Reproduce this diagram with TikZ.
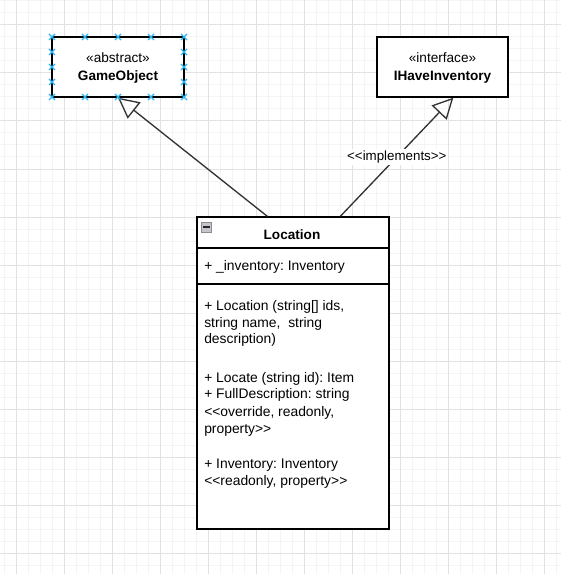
\documentclass[tikz,border=0pt]{standalone}
\usepackage{fontspec}
\setmainfont{Liberation Sans}
\usetikzlibrary{arrows.meta,calc}
\definecolor{gridmajor}{HTML}{E2E2E2}
\definecolor{gridminor}{HTML}{F4F4F4}
\definecolor{selblue}{HTML}{29B6F2}
\definecolor{edgegray}{HTML}{333333}
\definecolor{togfill}{HTML}{C4C6CC}
\definecolor{togdraw}{HTML}{8A8C92}
\tikzset{
  umlbox/.style={draw=black, line width=1pt, fill=white, rectangle, inner sep=0pt},
  txt/.style={anchor=base west, inner sep=0pt, font=\fontsize{10.4}{12}\selectfont},
  ctxt/.style={anchor=base, inner sep=0pt, font=\fontsize{10.2}{12}\selectfont},
  btxt/.style={anchor=base, inner sep=0pt, font=\fontsize{10.2}{12}\selectfont\bfseries},
  umledge/.style={draw=edgegray, line width=1pt, -{Triangle[open, length=15.5pt, width=15.5pt, line width=1pt]}},
  selmark/.style={draw=selblue, line width=0.9pt}
}
\begin{document}
\frenchspacing
\begin{tikzpicture}[x=0.75pt,y=-0.75pt]
\useasboundingbox (0,0) rectangle (561,574);
\fill[white] (0,0) rectangle (561,574);
% grid
\foreach \x in {4,16,...,560} \draw[gridminor, line width=0.75pt] (\x,0) -- (\x,574);
\foreach \y in {1,13,...,573} \draw[gridminor, line width=0.75pt] (0,\y) -- (561,\y);
\foreach \x in {16,64,...,560} \draw[gridmajor, line width=0.75pt] (\x,0) -- (\x,574);
\foreach \y in {25,73,...,573} \draw[gridmajor, line width=0.75pt] (0,\y) -- (561,\y);

% GameObject
\node[umlbox, minimum width=99pt, minimum height=45pt] (go) at (118,67) {};
\node[ctxt] (goster) at (118,63) {«abstract»};
\node[btxt] (goname) at (118,80.5) {GameObject};

% IHaveInventory
\node[umlbox, minimum width=98.25pt, minimum height=45pt] (ihi) at (442.5,67) {};
\node[ctxt] (ihister) at (442.5,63) {«interface»};
\node[btxt] (ihiname) at (442.5,80.5) {IHaveInventory};

% Location
\node[umlbox, minimum width=144pt, minimum height=234pt] (loc) at (293,373) {};
\coordinate (h1w) at (197,248); \coordinate (h1e) at (389,248);
\coordinate (h2w) at (197,284); \coordinate (h2e) at (389,284);
\draw[black, line width=1pt] (h1w) -- (h1e);
\draw[black, line width=1pt] (h2w) -- (h2e);
\node[draw=togdraw, fill=togfill, line width=0.6pt, minimum width=7.5pt, minimum height=7.5pt, inner sep=0pt] (tog) at (206.7,227) {};
\draw[black!85, line width=1pt] ([xshift=1.5pt]tog.west) -- ([xshift=-1.5pt]tog.east);
\node[btxt] (locname) at (292,239) {Location};
\node[txt] (a1) at (204,270) {+ \_inventory: Inventory};
\node[txt] (m1) at (204,310.5) {+ Location (string[] ids,};
\node[txt] (m2) at (204,327) {string name,\ \ string};
\node[txt] (m3) at (204,343.5) {description)};
\node[txt] (m4) at (204,382) {+ Locate (string id): Item};
\node[txt] (m5) at (204,398.5) {+ FullDescription: string};
\node[txt] (m6) at (204,416) {<{}<override, readonly,};
\node[txt] (m7) at (204,433) {property>{}>};
\node[txt] (m8) at (204,468.5) {+ Inventory: Inventory};
\node[txt] (m9) at (204,485) {<{}<readonly, property>{}>};

% edges
\draw[umledge] ([xshift=53.25pt]loc.north west) -- (go.south);
\draw[umledge] ([xshift=108pt]loc.north west) -- ([xshift=57.75pt]ihi.south west)
  node[midway, fill=white, inner sep=1pt, font=\fontsize{10}{12}\selectfont] (impl) {<{}<implements>{}>};

% selection markers on GameObject
\foreach \px/\py in {52/37,85/37,118/37,151/37,184/37,52/97,85/97,118/97,151/97,184/97,52/52,52/67,52/82,184/52,184/67,184/82}{
  \draw[selmark] ($(\px,\py)+(-3,-3)$) -- ($(\px,\py)+(3,3)$);
  \draw[selmark] ($(\px,\py)+(-3,3)$) -- ($(\px,\py)+(3,-3)$);
}
\end{tikzpicture}
\end{document}
